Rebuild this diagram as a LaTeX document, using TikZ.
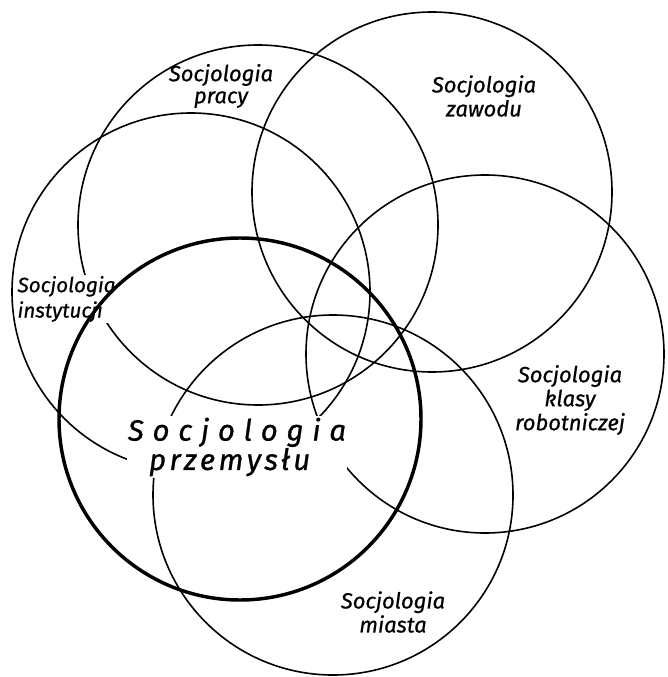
\documentclass[tikz,border=0pt]{standalone}
\usepackage{fontspec}
\setmainfont{Fira Sans}[FakeBold=0.7]
\newfontfamily\spacedfont{Fira Sans}[LetterSpace=30,FakeBold=0.9]

\begin{document}
\begin{tikzpicture}[x=0.75pt,y=-0.75pt,
    ring/.style={line width=1.2pt},
    corering/.style={line width=2.6pt},
    field/.style={font=\fontsize{16.5}{18}\selectfont\itshape,align=center,inner sep=1pt}]
    \useasboundingbox (0,0) rectangle (667,677);

    % Circles (the small label cuts the first one)
    \draw[ring] (258,225) circle [radius=180];
    \node[field,font=\fontsize{15.5}{19}\selectfont\itshape,align=left,anchor=west,fill=white] (instytucji) at (16,299) {Socjologia\\instytucji};
    \draw[ring] (432,192) circle [radius=180];
    \draw[ring] (191,292) circle [radius=179];
    \draw[ring] (485,354) circle [radius=179];
    \draw[ring] (333,495) circle [radius=180];

    % Main field
    \node[fill=white,inner sep=1pt,align=center,font=\fontsize{22}{22}\selectfont\spacedfont\itshape] (przemyslu) at (237,447) {Socjologia\\{\addfontfeature{LetterSpace=12}przemysłu}\hspace*{11pt}};
    \draw[corering] (240,419) circle [radius=181];

    % Labels
    \node[field,font=\fontsize{16.5}{16.5}\selectfont\itshape] (pracy) at (221,86) {Socjologia\\pracy};
    \node[field] (zawodu) at (484,96) {Socjologia\\zawodu};
    \node[field] (klasy) at (570,400) {Socjologia\\klasy\\robotniczej};
    \node[field] (miasta) at (393,612) {Socjologia\\miasta};
\end{tikzpicture}
\end{document}
